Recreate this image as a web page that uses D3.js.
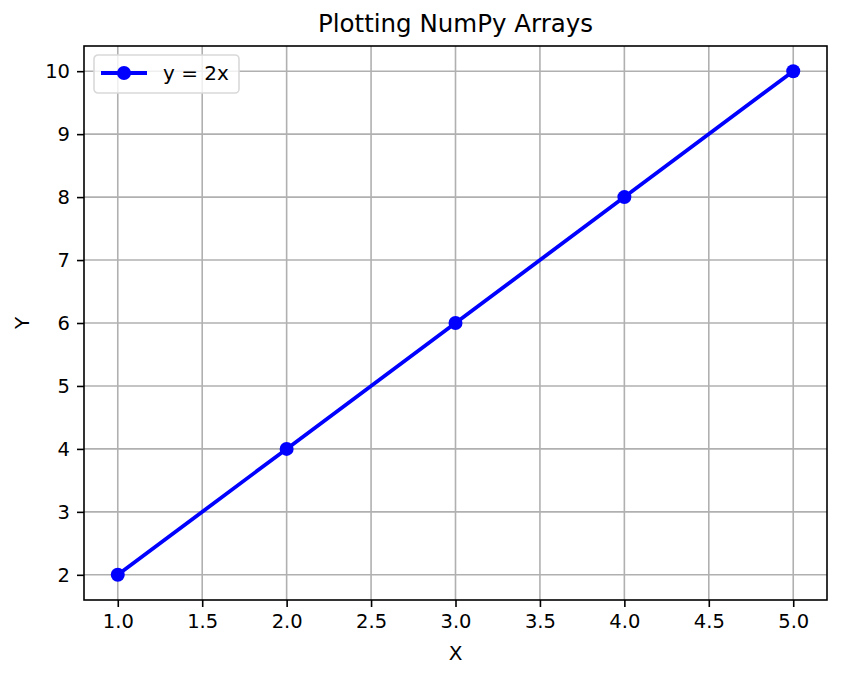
<!DOCTYPE html>
<html>
<head>
<meta charset="utf-8">
<script src="https://cdn.jsdelivr.net/npm/d3@7"></script>
<style>
  body { margin: 0; background: #fff; }
  text { font-family: "DejaVu Sans", sans-serif; }
</style>
</head>
<body>
<div id="chart"></div>
<script>
// data
let xValues = [1, 2, 3, 4, 5];
let yValues = [2, 4, 6, 8, 10];
let xTicks = [1.0, 1.5, 2.0, 2.5, 3.0, 3.5, 4.0, 4.5, 5.0];
let yTicks = [2, 3, 4, 5, 6, 7, 8, 9, 10];
let seriesName = "y = 2x";

let svgWidth = 843;
let svgHeight = 678;
let margin = { top: 46, right: 16, bottom: 78, left: 84 };
let width = svgWidth - margin.left - margin.right;
let height = svgHeight - margin.top - margin.bottom;

let svg = d3.select("#chart").append("svg")
  .attr("width", svgWidth)
  .attr("height", svgHeight);

let chartGroup = svg.append("g")
  .attr("transform", `translate(${margin.left}, ${margin.top})`);

let xScale = d3.scaleLinear().domain([0.8, 5.2]).range([0, width]);
let yScale = d3.scaleLinear().domain([1.6, 10.4]).range([height, 0]);

// grid
chartGroup.append("g").selectAll("line")
  .data(xTicks).enter().append("line")
  .attr("x1", d => xScale(d)).attr("x2", d => xScale(d))
  .attr("y1", 0).attr("y2", height)
  .attr("stroke", "#b0b0b0").attr("stroke-width", 1.6);

chartGroup.append("g").selectAll("line")
  .data(yTicks).enter().append("line")
  .attr("y1", d => yScale(d)).attr("y2", d => yScale(d))
  .attr("x1", 0).attr("x2", width)
  .attr("stroke", "#b0b0b0").attr("stroke-width", 1.6);

// axes
let xAxis = d3.axisBottom(xScale).tickValues(xTicks).tickFormat(d3.format(".1f"))
  .tickSize(7).tickPadding(7);
let yAxis = d3.axisLeft(yScale).tickValues(yTicks).tickFormat(d3.format("d"))
  .tickSize(7).tickPadding(7);

let gx = chartGroup.append("g")
  .attr("transform", `translate(0, ${height})`)
  .call(xAxis);
let gy = chartGroup.append("g").call(yAxis);

[gx, gy].forEach(g => {
  g.select(".domain").remove();
  g.selectAll(".tick line").attr("stroke", "#000").attr("stroke-width", 1.6);
  g.selectAll(".tick text")
    .attr("font-size", "19.5px")
    .attr("fill", "#000")
    .style("font-family", "DejaVu Sans, sans-serif");
});

// frame
chartGroup.append("rect")
  .attr("width", width).attr("height", height)
  .attr("fill", "none").attr("stroke", "#000").attr("stroke-width", 1.6);

// line + markers
let line = d3.line()
  .x((d, i) => xScale(xValues[i]))
  .y(d => yScale(d));

chartGroup.append("path")
  .datum(yValues)
  .attr("d", line)
  .attr("fill", "none")
  .attr("stroke", "#0000ff")
  .attr("stroke-width", 3.8);

chartGroup.selectAll("circle.pt")
  .data(yValues).enter().append("circle")
  .attr("class", "pt")
  .attr("cx", (d, i) => xScale(xValues[i]))
  .attr("cy", d => yScale(d))
  .attr("r", 7)
  .attr("fill", "#0000ff");

// legend
let legend = chartGroup.append("g").attr("transform", "translate(10, 9)");
legend.append("rect")
  .attr("width", 145).attr("height", 38)
  .attr("rx", 4)
  .attr("fill", "#fff").attr("fill-opacity", 0.8)
  .attr("stroke", "#d9d9d9").attr("stroke-width", 1.6);
legend.append("line")
  .attr("x1", 7).attr("x2", 53).attr("y1", 18).attr("y2", 18)
  .attr("stroke", "#0000ff").attr("stroke-width", 3.8);
legend.append("circle")
  .attr("cx", 30).attr("cy", 18).attr("r", 7).attr("fill", "#0000ff");
legend.append("text")
  .attr("x", 69).attr("y", 25)
  .attr("font-size", "20px")
  .attr("fill", "#000")
  .text(seriesName);

// title and labels
svg.append("text")
  .attr("x", margin.left + width / 2).attr("y", 32)
  .attr("text-anchor", "middle")
  .attr("font-size", "24.5px")
  .attr("fill", "#000")
  .text("Plotting NumPy Arrays");

svg.append("text")
  .attr("x", margin.left + width / 2).attr("y", 660)
  .attr("text-anchor", "middle")
  .attr("font-size", "20px")
  .attr("fill", "#000")
  .text("X");

svg.append("text")
  .attr("transform", `translate(29, ${margin.top + height / 2}) rotate(-90)`)
  .attr("text-anchor", "middle")
  .attr("font-size", "20px")
  .attr("fill", "#000")
  .text("Y");
</script>
</body>
</html>
